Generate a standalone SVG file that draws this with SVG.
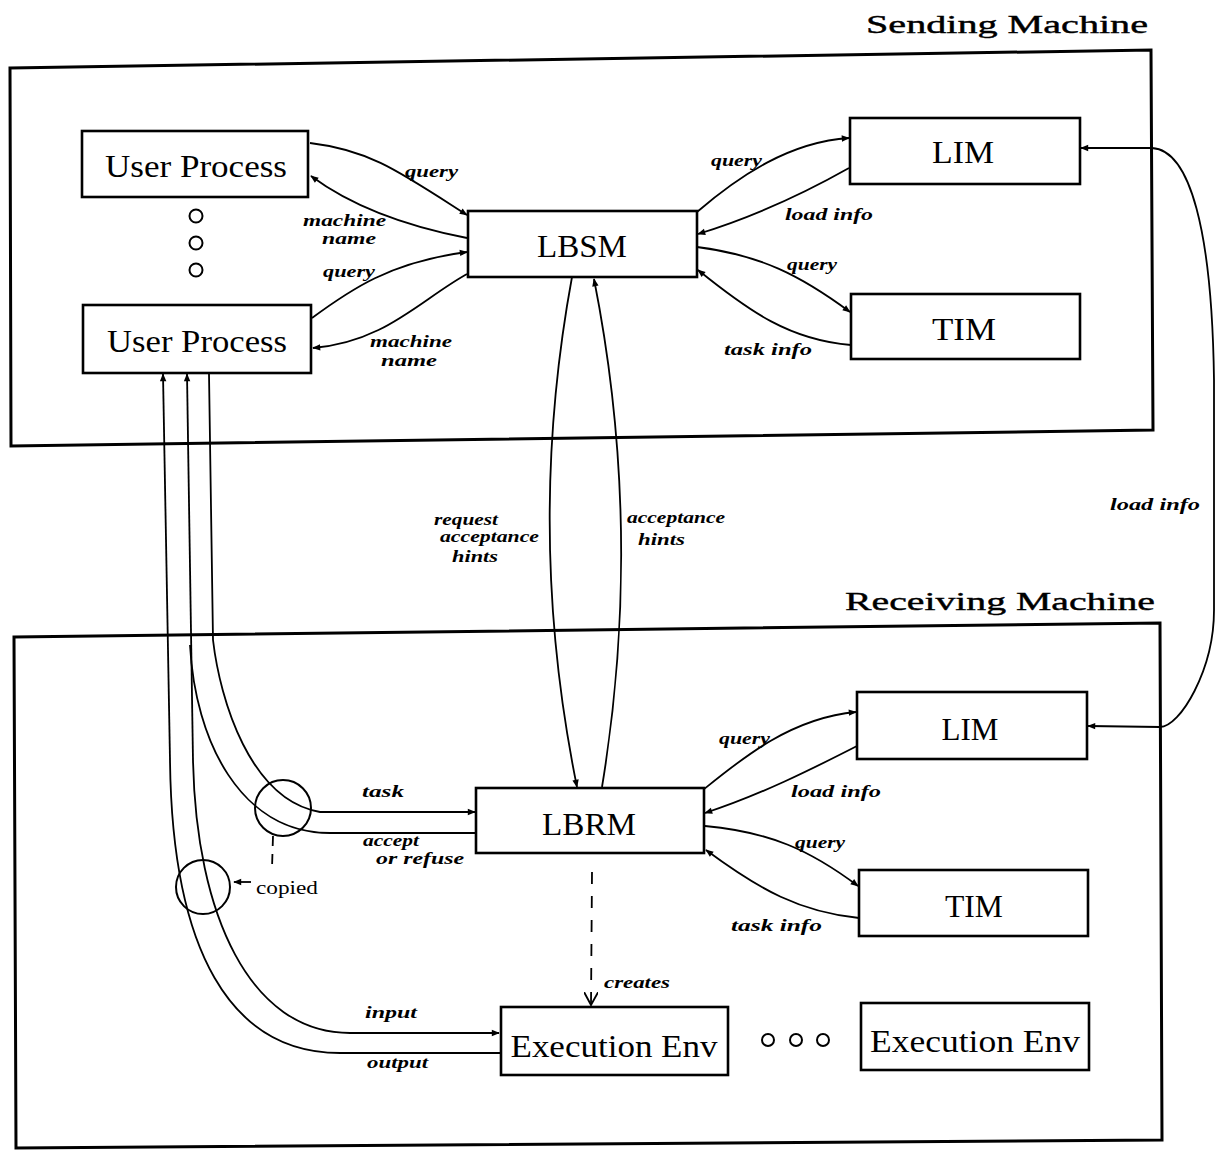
<svg xmlns="http://www.w3.org/2000/svg" width="1216" height="1153" viewBox="0 0 1216 1153">
<style>
.box{fill:#fff;stroke:#000;stroke-width:2.6}
.frame{fill:none;stroke:#000;stroke-width:3}
.node{font-family:"Liberation Serif","DejaVu Serif",serif;font-size:31px;fill:#000;text-anchor:middle}
.title{font-family:"Liberation Serif","DejaVu Serif",serif;font-size:25px;fill:#000;stroke:#000;stroke-width:0.4}
.lbl{font-family:"Liberation Serif","DejaVu Serif",serif;font-size:16px;font-style:italic;font-weight:bold;fill:#000}
.plain{font-family:"Liberation Serif","DejaVu Serif",serif;font-size:19px;fill:#000}
.c{fill:none;stroke:#000;stroke-width:1.8}
.dash{fill:none;stroke:#000;stroke-width:1.8;stroke-dasharray:12,12}
.dot{fill:none;stroke:#000;stroke-width:2}
</style>
<defs>
<marker id="ah" viewBox="0 0 10 10" refX="9" refY="5" markerWidth="10" markerHeight="8" markerUnits="userSpaceOnUse" orient="auto-start-reverse"><path d="M0,1 L10,5 L0,9 z" fill="#000"/></marker>
<marker id="ov" viewBox="0 0 12 12" refX="11" refY="6" markerWidth="14" markerHeight="14" markerUnits="userSpaceOnUse" orient="auto"><path d="M0,0 L11,6 L0,12" fill="none" stroke="#000" stroke-width="1.6"/></marker>
</defs>
<rect width="1216" height="1153" fill="#fff"/>

<g id="sending-machine">
<path class="frame" d="M10,68 L1151,50 L1153,430 L11,446 Z"/>
<text class="title" x="866" y="33" textLength="282" lengthAdjust="spacingAndGlyphs">Sending Machine</text>
</g>
<g id="receiving-machine">
<path class="frame" d="M14,637 L1160,623 L1162,1140 L16,1148 Z"/>
<text class="title" x="845" y="610" textLength="310" lengthAdjust="spacingAndGlyphs">Receiving Machine</text>
</g>

<g id="connectors">
<path class="c" d="M310,143 C370,150 400,172 467,215" marker-end="url(#ah)"/>
<path class="c" d="M467,238 C400,225 350,205 311,176" marker-end="url(#ah)"/>
<path class="c" d="M312,318 C350,290 390,262 467,252" marker-end="url(#ah)"/>
<path class="c" d="M467,274 C420,300 385,342 313,348" marker-end="url(#ah)"/>
<path class="c" d="M697,212 C740,175 790,142 849,138" marker-end="url(#ah)"/>
<path class="c" d="M849,168 C810,190 760,215 698,234" marker-end="url(#ah)"/>
<path class="c" d="M697,247 C760,255 800,275 850,312" marker-end="url(#ah)"/>
<path class="c" d="M851,345 C790,340 750,312 698,270" marker-end="url(#ah)"/>
<path class="c" d="M572,277 Q525,532 577,787" marker-end="url(#ah)"/>
<path class="c" d="M602,787 Q644,532 594,279" marker-end="url(#ah)"/>
<path class="c" d="M703,790 C740,760 790,718 856,712" marker-end="url(#ah)"/>
<path class="c" d="M857,746 C810,770 760,795 705,813" marker-end="url(#ah)"/>
<path class="c" d="M705,826 C770,832 810,850 858,886" marker-end="url(#ah)"/>
<path class="c" d="M859,918 C800,912 760,890 706,850" marker-end="url(#ah)"/>
<path class="c" d="M1081,148 L1152,148 C1190,150 1212,230 1214,380 L1214,610 C1214,670 1180,727 1160,727 L1088,726" marker-start="url(#ah)" marker-end="url(#ah)"/>
<path class="dash" d="M592,872 L591,1005" marker-end="url(#ov)"/>
<path class="c" d="M170,760 L163,374" marker-end="url(#ah)"/>
<path class="c" d="M193,760 L187,374" marker-end="url(#ah)"/>
<path class="c" d="M170,760 C172,950 230,1053 340,1053 L500,1053"/>
<path class="c" d="M193,760 C196,915 250,1033 350,1033 L499,1033" marker-end="url(#ah)"/>
<path class="c" d="M209,374 L213,640 C220,700 250,800 320,812 L475,812" marker-end="url(#ah)"/>
<path class="c" d="M190,645 C195,740 240,833 330,833 L476,833"/>
<circle class="dot" cx="283" cy="808" r="28"/>
<circle class="dot" cx="203" cy="887" r="27"/>
<path class="dash" d="M273,836 L272,868" style="stroke-dasharray:10,8"/>
<path class="c" d="M251,882 L234,882" marker-end="url(#ah)"/>
</g>

<g id="labels">
<text class="lbl" x="405" y="177" textLength="53" lengthAdjust="spacingAndGlyphs">query</text>
<text class="lbl" x="303" y="226" textLength="83" lengthAdjust="spacingAndGlyphs">machine</text>
<text class="lbl" x="322" y="244" textLength="54" lengthAdjust="spacingAndGlyphs">name</text>
<text class="lbl" x="323" y="277" textLength="52" lengthAdjust="spacingAndGlyphs">query</text>
<text class="lbl" x="370" y="347" textLength="82" lengthAdjust="spacingAndGlyphs">machine</text>
<text class="lbl" x="381" y="366" textLength="56" lengthAdjust="spacingAndGlyphs">name</text>
<text class="lbl" x="711" y="166" textLength="51" lengthAdjust="spacingAndGlyphs">query</text>
<text class="lbl" x="785" y="220" textLength="88" lengthAdjust="spacingAndGlyphs">load info</text>
<text class="lbl" x="787" y="270" textLength="50" lengthAdjust="spacingAndGlyphs">query</text>
<text class="lbl" x="724" y="355" textLength="88" lengthAdjust="spacingAndGlyphs">task info</text>
<text class="lbl" x="434" y="525" textLength="64" lengthAdjust="spacingAndGlyphs">request</text>
<text class="lbl" x="440" y="542" textLength="99" lengthAdjust="spacingAndGlyphs">acceptance</text>
<text class="lbl" x="452" y="562" textLength="46" lengthAdjust="spacingAndGlyphs">hints</text>
<text class="lbl" x="627" y="523" textLength="98" lengthAdjust="spacingAndGlyphs">acceptance</text>
<text class="lbl" x="638" y="545" textLength="47" lengthAdjust="spacingAndGlyphs">hints</text>
<text class="lbl" x="1110" y="510" textLength="90" lengthAdjust="spacingAndGlyphs">load info</text>
<text class="lbl" x="719" y="744" textLength="51" lengthAdjust="spacingAndGlyphs">query</text>
<text class="lbl" x="791" y="797" textLength="90" lengthAdjust="spacingAndGlyphs">load info</text>
<text class="lbl" x="795" y="848" textLength="50" lengthAdjust="spacingAndGlyphs">query</text>
<text class="lbl" x="731" y="931" textLength="91" lengthAdjust="spacingAndGlyphs">task info</text>
<text class="lbl" x="362" y="797" textLength="42" lengthAdjust="spacingAndGlyphs">task</text>
<text class="lbl" x="363" y="846" textLength="56" lengthAdjust="spacingAndGlyphs">accept</text>
<text class="lbl" x="376" y="864" textLength="88" lengthAdjust="spacingAndGlyphs">or refuse</text>
<text class="plain" x="256" y="894" textLength="62" lengthAdjust="spacingAndGlyphs">copied</text>
<text class="lbl" x="604" y="988" textLength="66" lengthAdjust="spacingAndGlyphs">creates</text>
<text class="lbl" x="365" y="1018" textLength="52" lengthAdjust="spacingAndGlyphs">input</text>
<text class="lbl" x="367" y="1068" textLength="61" lengthAdjust="spacingAndGlyphs">output</text>
</g>

<g id="user-process-1"><rect class="box" x="82" y="131" width="226" height="66"/><text class="node" x="196" y="177" textLength="182" lengthAdjust="spacingAndGlyphs">User Process</text></g>
<g id="ellipsis-users"><circle class="dot" cx="196" cy="216" r="6.5"/><circle class="dot" cx="196" cy="243" r="6.5"/><circle class="dot" cx="196" cy="270" r="6.5"/></g>
<g id="user-process-2"><rect class="box" x="83" y="305" width="228" height="68"/><text class="node" x="197" y="352" textLength="180" lengthAdjust="spacingAndGlyphs">User Process</text></g>
<g id="lbsm"><rect class="box" x="468" y="211" width="229" height="66"/><text class="node" x="582" y="257" textLength="90" lengthAdjust="spacingAndGlyphs">LBSM</text></g>
<g id="lim-send"><rect class="box" x="850" y="118" width="230" height="66"/><text class="node" x="963" y="163" textLength="62" lengthAdjust="spacingAndGlyphs">LIM</text></g>
<g id="tim-send"><rect class="box" x="851" y="294" width="229" height="65"/><text class="node" x="964" y="340" textLength="64" lengthAdjust="spacingAndGlyphs">TIM</text></g>
<g id="lbrm"><rect class="box" x="476" y="788" width="228" height="65"/><text class="node" x="589" y="835" textLength="94" lengthAdjust="spacingAndGlyphs">LBRM</text></g>
<g id="lim-recv"><rect class="box" x="857" y="692" width="230" height="67"/><text class="node" x="970" y="740" textLength="57" lengthAdjust="spacingAndGlyphs">LIM</text></g>
<g id="tim-recv"><rect class="box" x="859" y="870" width="229" height="66"/><text class="node" x="974" y="917" textLength="58" lengthAdjust="spacingAndGlyphs">TIM</text></g>
<g id="exec-env-1"><rect class="box" x="501" y="1007" width="227" height="68"/><text class="node" x="614" y="1057" textLength="207" lengthAdjust="spacingAndGlyphs">Execution Env</text></g>
<g id="ellipsis-exec"><circle class="dot" cx="768" cy="1040" r="6"/><circle class="dot" cx="796" cy="1040" r="6"/><circle class="dot" cx="823" cy="1040" r="6"/></g>
<g id="exec-env-2"><rect class="box" x="861" y="1003" width="228" height="67"/><text class="node" x="975" y="1052" textLength="210" lengthAdjust="spacingAndGlyphs">Execution Env</text></g>
</svg>
